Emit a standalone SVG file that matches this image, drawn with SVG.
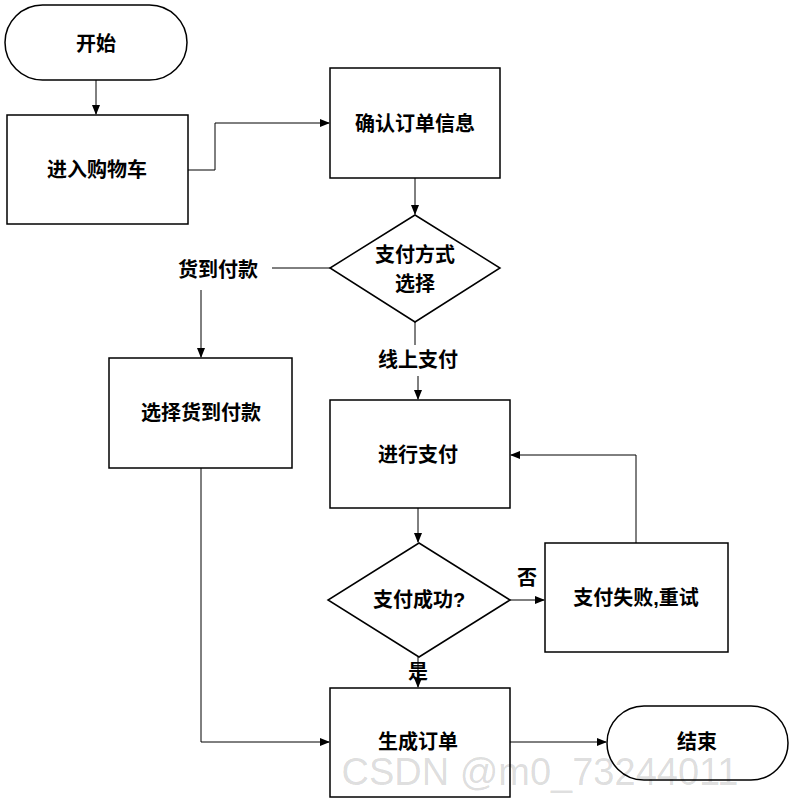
<svg xmlns="http://www.w3.org/2000/svg" width="793" height="802" viewBox="0 0 793 802">
<defs>
<marker id="a" markerWidth="10" markerHeight="10" refX="9" refY="5" orient="auto" markerUnits="userSpaceOnUse"><path d="M0,1 L10,5 L0,9 Z" fill="#000"/></marker>
<style>
.s{fill:#fff;stroke:#000;stroke-width:1.5}
.t{font-family:"Liberation Sans","Noto Sans CJK SC",sans-serif;font-weight:bold;font-size:20px;text-anchor:middle;dominant-baseline:central;fill:#000}
.c{fill:none;stroke:#000;stroke-width:1}
</style>
</defs>
<rect width="793" height="802" fill="#fff"/>
<g id="connectors">
<path class="c" d="M96,80 V114" marker-end="url(#a)"/>
<path class="c" d="M188,170 H215 V123 H329" marker-end="url(#a)"/>
<path class="c" d="M415,178 V214" marker-end="url(#a)"/>
<path class="c" d="M330,268 H272"/>
<path class="c" d="M201,290 V357" marker-end="url(#a)"/>
<path class="c" d="M201,468 V742 H329" marker-end="url(#a)"/>
<path class="c" d="M415,322 V345"/>
<path class="c" d="M418,376 V399" marker-end="url(#a)"/>
<path class="c" d="M418,508 V542" marker-end="url(#a)"/>
<path class="c" d="M510,600 H544" marker-end="url(#a)"/>
<path class="c" d="M636,543 V455 H511" marker-end="url(#a)"/>
<path class="c" d="M418,657 V687" marker-end="url(#a)"/>
<path class="c" d="M510,742 H606" marker-end="url(#a)"/>
<text class="t" x="218" y="270">货到付款</text>
<text class="t" x="418" y="360">线上支付</text>
<text class="t" x="527" y="578">否</text>
<text class="t" x="418" y="672">是</text>
</g>
<g id="start"><rect class="s" x="5" y="5" width="182" height="75" rx="37.5"/><text class="t" x="96" y="44">开始</text></g>
<g id="cart"><rect class="s" x="7" y="115" width="181" height="109"/><text class="t" x="97" y="170">进入购物车</text></g>
<g id="confirm"><rect class="s" x="330" y="68" width="170" height="110"/><text class="t" x="415" y="124">确认订单信息</text></g>
<g id="paychoice"><path class="s" d="M415,215 L500,268 L415,322 L330,268 Z"/><text class="t" x="415" y="255">支付方式</text><text class="t" x="415" y="284">选择</text></g>
<g id="cod"><rect class="s" x="109" y="358" width="183" height="110"/><text class="t" x="201" y="413">选择货到付款</text></g>
<g id="pay"><rect class="s" x="330" y="400" width="180" height="108"/><text class="t" x="418" y="455">进行支付</text></g>
<g id="success"><path class="s" d="M419,543 L510,600 L419,657 L328,600 Z"/><text class="t" x="419" y="600">支付成功?</text></g>
<g id="retry"><rect class="s" x="545" y="543" width="183" height="109"/><text class="t" x="636" y="598">支付失败,重试</text></g>
<g id="order"><rect class="s" x="330" y="688" width="180" height="109"/><text class="t" x="418" y="742">生成订单</text></g>
<g id="end"><rect class="s" x="607" y="706" width="181" height="74" rx="37"/><text class="t" x="697" y="742">结束</text></g>
<text x="540" y="772" font-family="Liberation Sans,sans-serif" font-size="38" fill="#000" fill-opacity="0.15" text-anchor="middle" dominant-baseline="central">CSDN @m0_73244011</text>
</svg>
